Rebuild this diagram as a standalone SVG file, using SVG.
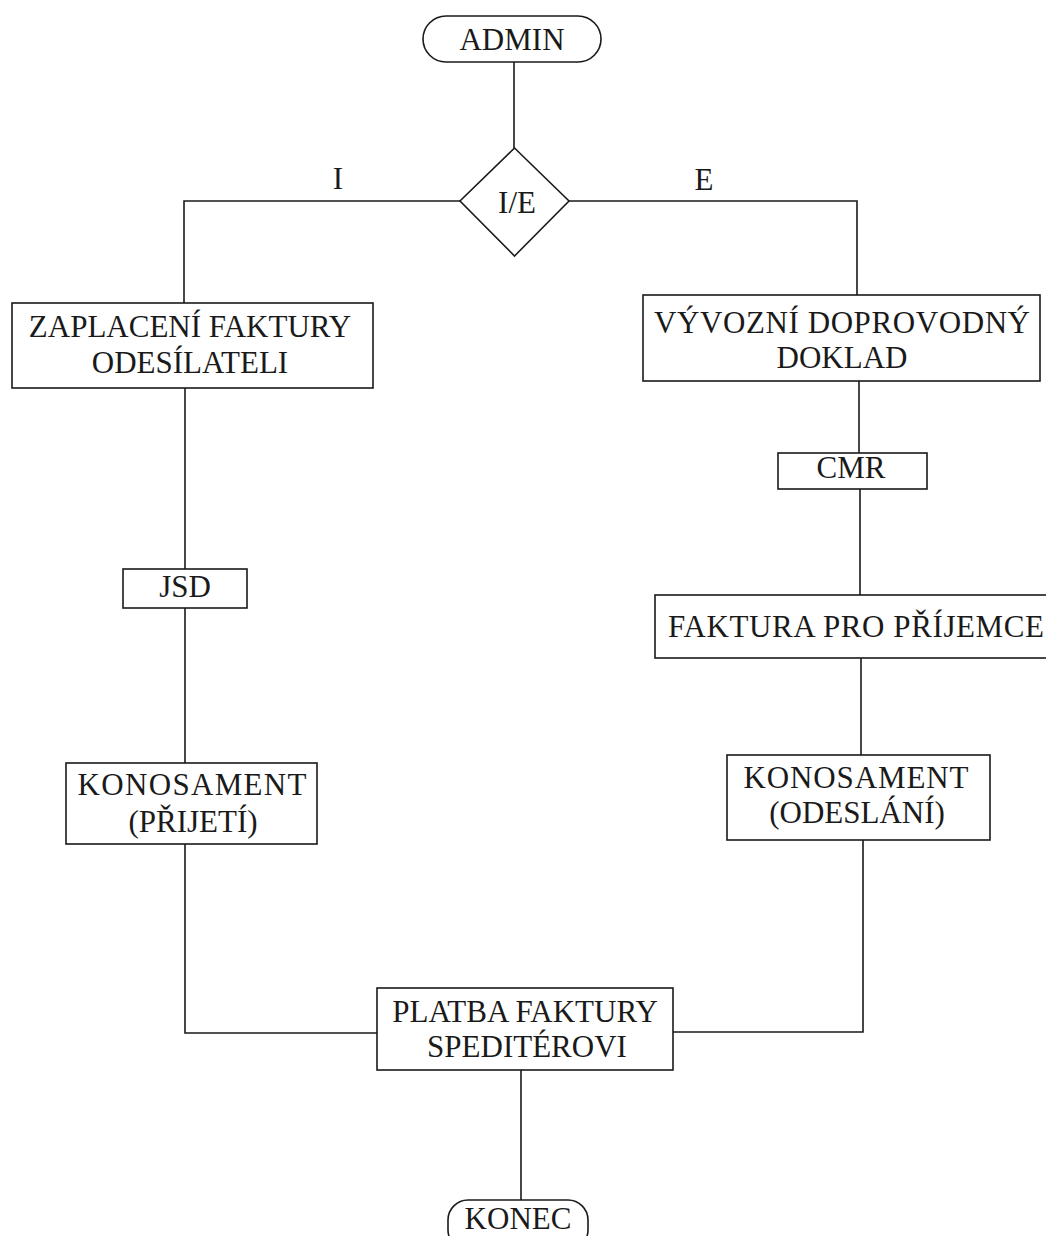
<svg xmlns="http://www.w3.org/2000/svg" width="1046" height="1236" viewBox="0 0 1046 1236">
<style>
.n{fill:#fff;stroke:#1a1a1a;stroke-width:1.6}
.c{fill:none;stroke:#1a1a1a;stroke-width:1.6}
text{font-family:"Liberation Serif","Times New Roman",serif;font-size:31px;fill:#1a1a1a;text-anchor:middle}
</style>
<rect width="1046" height="1236" fill="#fff"/>
<g id="connectors">
<path class="c" d="M514,62 V148"/>
<path class="c" d="M460,201 H184 V303"/>
<path class="c" d="M569,201 H857 V295"/>
<path class="c" d="M185,388 V569"/>
<path class="c" d="M185,608 V763"/>
<path class="c" d="M185,844 V1033 H377"/>
<path class="c" d="M859,381 V453"/>
<path class="c" d="M860,489 V595"/>
<path class="c" d="M861,658 V755"/>
<path class="c" d="M863,840 V1032 H673"/>
<path class="c" d="M521,1070 V1200"/>
<text x="338" y="189">I</text>
<text x="704" y="190">E</text>
</g>
<g id="admin"><rect class="n" x="423" y="16" width="178" height="46" rx="23"/><text x="512" y="50">ADMIN</text></g>
<g id="ie"><polygon class="n" points="514.5,148 569,201 514.5,256 460,201"/><text x="517" y="213">I/E</text></g>
<g id="zaplaceni"><rect class="n" x="12" y="303" width="361" height="85"/><text x="190" y="337">ZAPLACENÍ FAKTURY</text><text x="190" y="373">ODESÍLATELI</text></g>
<g id="jsd"><rect class="n" x="123" y="569" width="124" height="39"/><text x="185" y="597">JSD</text></g>
<g id="kon_prijeti"><rect class="n" x="66" y="763" width="251" height="81"/><text x="192" y="795" textLength="229">KONOSAMENT</text><text x="193" y="832">(PŘIJETÍ)</text></g>
<g id="vyvozni"><rect class="n" x="643" y="295" width="397" height="86"/><text x="842" y="333" textLength="376">VÝVOZNÍ DOPROVODNÝ</text><text x="842" y="368">DOKLAD</text></g>
<g id="cmr"><rect class="n" x="778" y="453" width="149" height="36"/><text x="851" y="478">CMR</text></g>
<g id="faktura"><rect class="n" x="655" y="595" width="400" height="63"/><text x="856" y="637" textLength="376">FAKTURA PRO PŘÍJEMCE</text></g>
<g id="kon_odeslani"><rect class="n" x="727" y="755" width="263" height="85"/><text x="856" y="788" textLength="225">KONOSAMENT</text><text x="857" y="823">(ODESLÁNÍ)</text></g>
<g id="platba"><rect class="n" x="377" y="988" width="296" height="82"/><text x="525" y="1022">PLATBA FAKTURY</text><text x="527" y="1057">SPEDITÉROVI</text></g>
<g id="konec"><rect class="n" x="448" y="1200" width="140" height="50" rx="20"/><text x="518" y="1229">KONEC</text></g>
</svg>
